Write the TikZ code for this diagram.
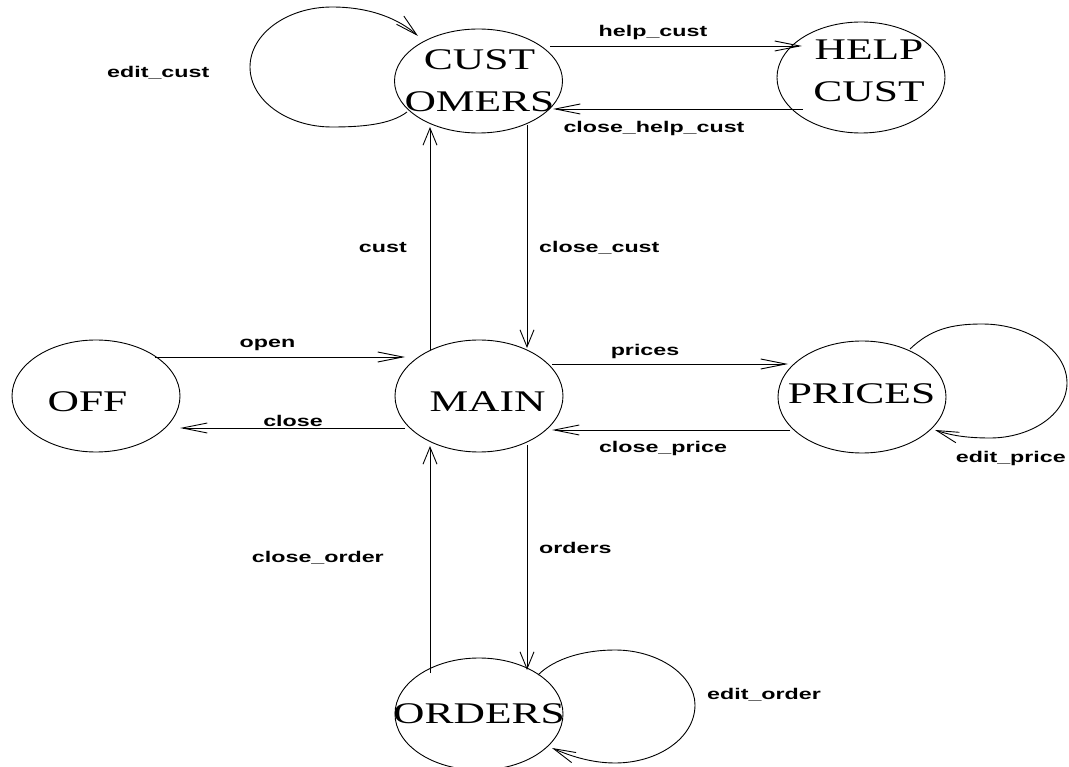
\documentclass[tikz,border=0pt]{standalone}
\usepackage{fontspec}
\setmainfont{Liberation Serif}
\newfontfamily\labfont{Liberation Sans}
\usetikzlibrary{arrows.meta,shapes.geometric,calc}
\tikzset{
  state/.style={draw, ellipse, line width=0.9pt, inner sep=0pt, minimum width=168pt, minimum height=112pt},
  statetext/.style={inner sep=0pt, font=\fontsize{30}{42}\selectfont},
  lab/.style={inner sep=0pt, font=\labfont\bfseries\fontsize{15.5}{18}\selectfont},
  conn/.style={line width=0.9pt},
  harr/.style={conn, -{Straight Barb[length=25pt,width=10pt]}},
  varr/.style={conn, -{Straight Barb[length=17pt,width=14pt]}},
  larr/.style={conn, -{Straight Barb[length=22pt,width=11pt]}},
}
\newcommand{\sx}[1]{\scalebox{1.45}[1]{#1}}
\newcommand{\lx}[1]{\scalebox{1.5}[1]{#1}}
\begin{document}
\begin{tikzpicture}[x=1pt, y=-1pt]
\useasboundingbox (0,0) rectangle (1069,767);

% states
\node[state] (off) at (96,396) {};
\node[state] (main) at (479,396) {};
\node[state] (prices) at (862,397) {};
\node[state, minimum height=104pt] (cust) at (478.5,81) {};
\node[state, minimum height=111pt] (help) at (861,77.5) {};
\node[state] (orders) at (479,714) {};

% state texts
\node[statetext, anchor=base] (offtext) at (87.5,412) {\sx{OFF}};
\node[statetext, anchor=base] (maintext) at (487.5,412) {\sx{MAIN}};
\node[statetext, anchor=base] (pricestext) at (861.5,404) {\sx{PRICES}};
\node[statetext, anchor=base] (orderstext) at (479,723) {\sx{ORDERS}};
\node[statetext, anchor=base] (custtext) at (479.5,70) {\sx{\begin{tabular}[t]{@{}c@{}}CUST\\OMERS\end{tabular}}};
\node[statetext, anchor=base] (helptext) at (869,60) {\sx{\begin{tabular}[t]{@{}c@{}}HELP\\CUST\end{tabular}}};

% connectors
\draw[harr] ($(off.center)+(59,-39)$) -- ($(main.center)+(-74,-39)$);
\draw[harr] ($(main.center)+(-74,32)$) -- ($(off.center)+(84,32)$);
\draw[harr] ($(main.center)+(73,-32)$) -- ($(prices.center)+(-74,-33)$);
\draw[harr] ($(prices.center)+(-72,33)$) -- ($(main.center)+(73,34)$);
\draw[harr] ($(cust.center)+(71.5,-35)$) -- ($(help.center)+(-59,-31.5)$);
\draw[harr] ($(help.center)+(-58,31.5)$) -- ($(cust.center)+(74.5,28)$);
\draw[varr] ($(main.center)+(-49,-46)$) -- ($(cust.center)+(-48.5,46)$);
\draw[varr] ($(cust.center)+(48.5,44)$) -- ($(main.center)+(48,-48)$);
\draw[varr] ($(main.center)+(48,49)$) -- ($(orders.center)+(48,-44)$);
\draw[varr] ($(orders.center)+(-49,-41)$) -- ($(main.center)+(-49,50)$);

% self loops
\draw[larr] ($(cust.center)+(-71.5,31)$) .. controls (390,125) and (360,127) .. (332,127)
  .. controls (287,127) and (250,100) .. (250,67)
  .. controls (250,34) and (287,7) .. (332,7)
  .. controls (372,7) and (400,20) .. ($(cust.center)+(-60.5,-45)$);
\draw[larr] ($(prices.center)+(48,-48)$) .. controls (930,330) and (950,324) .. (982,324)
  .. controls (1028,324) and (1067,350) .. (1067,383)
  .. controls (1067,415) and (1030,438) .. (990,438)
  .. controls (965,438) and (950,435) .. ($(prices.center)+(73,33)$);
\draw[larr] ($(orders.center)+(59,-39)$) .. controls (555,658) and (585,650) .. (615,650)
  .. controls (658,650) and (695,675) .. (695,705)
  .. controls (695,738) and (658,763) .. (615,763)
  .. controls (590,763) and (568,755) .. ($(orders.center)+(73,34)$);

% labels
\node[lab, anchor=base] (lhelp) at (653,37) {\lx{help\_cust}};
\node[lab, anchor=base] (lclosehelp) at (654,133) {\lx{close\_help\_cust}};
\node[lab, anchor=base east] (lcust) at (407,253) {\lx{cust}};
\node[lab, anchor=base west] (lclosecust) at (539,253) {\lx{close\_cust}};
\node[lab, anchor=base] (lopen) at (267.5,348) {\lx{open}};
\node[lab, anchor=base] (lclose) at (293,427) {\lx{close}};
\node[lab, anchor=base] (lprices) at (645,356) {\lx{prices}};
\node[lab, anchor=base] (lcloseprice) at (663,452) {\lx{close\_price}};
\node[lab, anchor=base east] (leditprice) at (1066,462) {\lx{edit\_price}};
\node[lab, anchor=base west] (lorders) at (539,553) {\lx{orders}};
\node[lab, anchor=base east] (lcloseorder) at (384,562) {\lx{close\_order}};
\node[lab, anchor=base west] (leditorder) at (707,699) {\lx{edit\_order}};
\node[lab, anchor=base west] (leditcust) at (107,78) {\lx{edit\_cust}};
\end{tikzpicture}
\end{document}
